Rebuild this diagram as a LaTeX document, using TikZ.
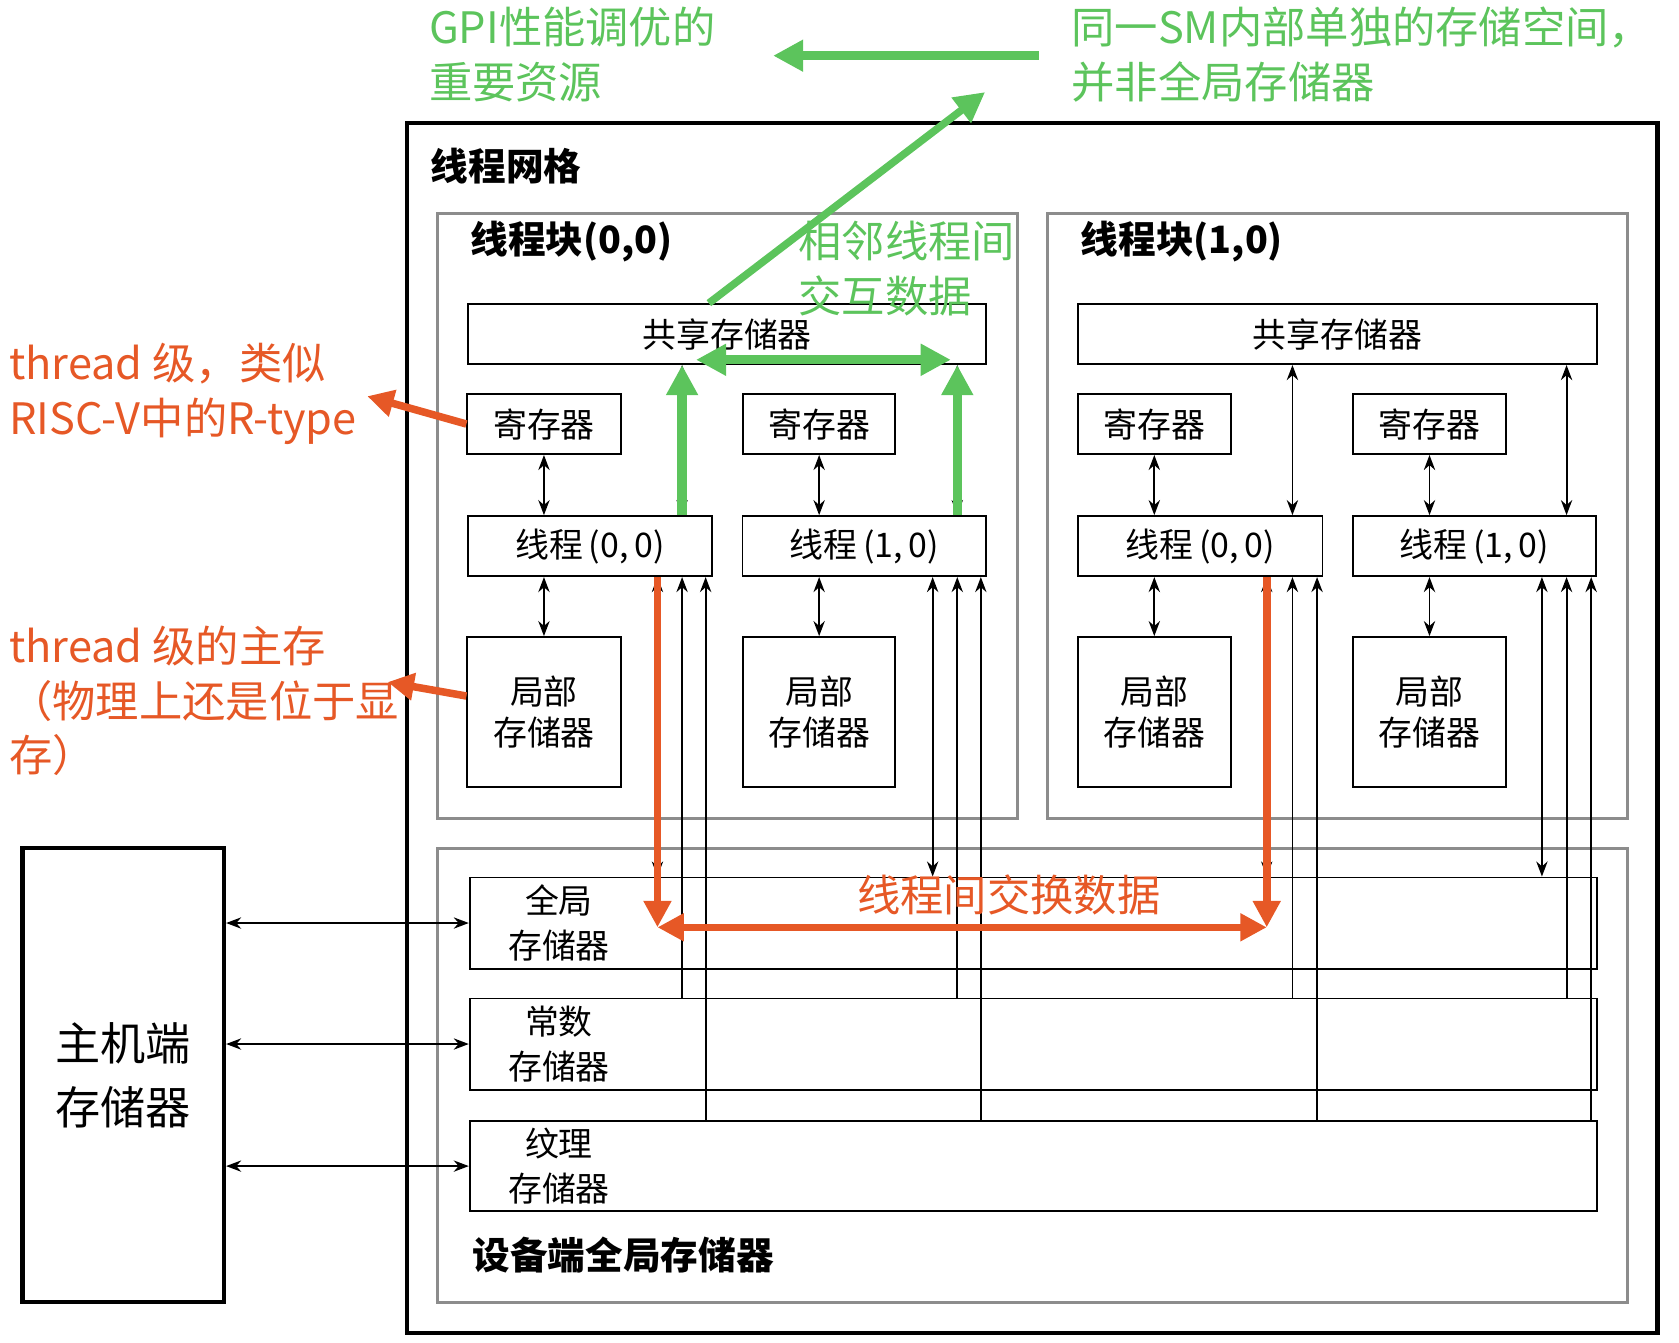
\documentclass[tikz,border=0pt]{standalone}
\usepackage{fontspec}
\setmainfont{Liberation Serif}
\newfontfamily\cjk{Noto Sans CJK SC}
\usetikzlibrary{arrows.meta,positioning}
\definecolor{ngreen}{RGB}{92,196,92}
\definecolor{norange}{RGB}{230,88,38}
\tikzset{
  box/.style={draw=black, line width=0.5pt, inner sep=0pt, font=\cjk\fontsize{9}{11}\selectfont, align=center},
  frame/.style={draw=black!45, line width=0.8pt},
  title/.style={anchor=west, font=\cjk\bfseries\fontsize{10}{12}\selectfont},
  ann/.style={anchor=north west, align=left, inner sep=0pt, font=\cjk\fontsize{11.5}{14.5}\selectfont},
  link/.style={line width=0.5pt, {Stealth[length=4pt]}-{Stealth[length=4pt]}},
  up/.style={line width=0.5pt, {Stealth[length=4pt]}-},
  gflow/.style={draw=ngreen, line width=2.5pt, -{Triangle[length=8pt,width=8pt]}},
  oflow/.style={draw=norange, line width=2pt, -{Triangle[length=7pt,width=7pt]}},
}
\begin{document}
\begin{tikzpicture}[x=0.01cm,y=-0.01cm]
	\useasboundingbox (0,0) rectangle (1568,1254);

	% frames
	\draw[line width=1.2pt] (380,115) rectangle (1548,1245);
	\node[title] (grid) at (390,155) {线程网格};
	\draw[frame] (409,199) rectangle (950,764);
	\node[title] (b0) at (427,226) {线程块(0,0)};
	\draw[frame] (978,199) rectangle (1520,764);
	\node[title] (b1) at (997,226) {线程块(1,0)};
	\draw[frame] (409,792) rectangle (1520,1216);
	\node[title] (dev) at (429,1172) {设备端全局存储器};

	% block (0,0)
	\node[box,minimum width=4.84cm,minimum height=0.56cm] (s0) at (679,312) {共享存储器};
	\node[box,minimum width=1.43cm,minimum height=0.56cm] (r00) at (508,396) {寄存器};
	\node[box,minimum width=1.42cm,minimum height=0.56cm] (r10) at (765,396) {寄存器};
	\node[box,minimum width=2.28cm,minimum height=0.56cm] (t00) at (551,510) {线程\,(0,\,0)};
	\node[box,minimum width=2.27cm,minimum height=0.56cm] (t10) at (807,510) {线程\,(1,\,0)};
	\node[box,minimum width=1.43cm,minimum height=1.40cm] (l00) at (508,665) {局部\\存储器};
	\node[box,minimum width=1.42cm,minimum height=1.40cm] (l10) at (765,665) {局部\\存储器};

	% block (1,0)
	\node[box,minimum width=4.84cm,minimum height=0.56cm] (s1) at (1249,312) {共享存储器};
	\node[box,minimum width=1.43cm,minimum height=0.56cm] (r01) at (1078,396) {寄存器};
	\node[box,minimum width=1.42cm,minimum height=0.56cm] (r11) at (1335,396) {寄存器};
	\node[box,minimum width=2.28cm,minimum height=0.56cm] (t01) at (1121,510) {线程\,(0,\,0)};
	\node[box,minimum width=2.27cm,minimum height=0.56cm] (t11) at (1377,510) {线程\,(1,\,0)};
	\node[box,minimum width=1.43cm,minimum height=1.40cm] (l01) at (1078,665) {局部\\存储器};
	\node[box,minimum width=1.42cm,minimum height=1.40cm] (l11) at (1335,665) {局部\\存储器};

	% device memories
	\node[box,minimum width=10.52cm,minimum height=0.85cm] (gm) at (965,862) {};
	\node[box,minimum width=10.52cm,minimum height=0.85cm] (cm) at (965,975) {};
	\node[box,minimum width=10.52cm,minimum height=0.84cm] (tm) at (965,1089) {};
	\node[font=\cjk\fontsize{9}{12}\selectfont,align=center] (gml) at (522,862) {全局\\存储器};
	\node[font=\cjk\fontsize{9}{12}\selectfont,align=center] (cml) at (522,975) {常数\\存储器};
	\node[font=\cjk\fontsize{9}{12}\selectfont,align=center] (tml) at (522,1089) {纹理\\存储器};

	% host
	\node[draw=black,line width=1.2pt,minimum width=1.88cm,minimum height=4.24cm,
	      font=\cjk\fontsize{12}{17}\selectfont,align=center] (host) at (115,1004) {主机端\\存储器};

	% register/local links
	\foreach \r/\t/\l in {r00/t00/l00, r10/t10/l10, r01/t01/l01, r11/t11/l11} {
		\draw[link] (\r.south) -- (\r.south |- \t.north);
		\draw[link] (\r.south |- \t.south) -- (\l.north);
	}
	% shared links
	\draw[link] (s0.south -| 637,0) -- (t00.north -| 637,0);
	\draw[link] (s0.south -| 894,0) -- (t10.north -| 894,0);
	\draw[link] (s1.south -| 1207,0) -- (t01.north -| 1207,0);
	\draw[link] (s1.south -| 1463,0) -- (t11.north -| 1463,0);

	% thread to device memory
	\foreach \t/\xa/\xb/\xc in {t00/614/637/659, t10/871/894/916, t01/1183/1207/1230, t11/1440/1463/1486} {
		\draw[link] (\t.south -| \xa,0) -- (gm.north -| \xa,0);
		\draw[up] (\t.south -| \xb,0) -- (cm.north -| \xb,0);
		\draw[up] (\t.south -| \xc,0) -- (tm.north -| \xc,0);
	}

	% host links
	\draw[link] (host.east |- gm) -- (gm.west);
	\draw[link] (host.east |- cm) -- (cm.west);
	\draw[link] (host.east |- tm) -- (tm.west);

	% green notes
	\node[ann,text=ngreen] (n1) at (400,6) {GPI性能调优的\\重要资源};
	\node[ann,text=ngreen] (n2) at (1000,6) {同一SM内部单独的存储空间，\\并非全局存储器};
	\node[ann,text=ngreen] (n3) at (745,206) {相邻线程间\\交互数据};
	\coordinate (g1) at (970,52);
	\coordinate (g2) at (722,52);
	\coordinate (g3) at (920,86);
	\draw[gflow] (g1) -- (g2);
	\draw[gflow,line width=2pt] (s0.north -| 662,0) -- (g3);
	\draw[gflow] (t00.north -| 637,0) -- (s0.south -| 637,0);
	\draw[gflow] (t10.north -| 894,0) -- (s0.south -| 894,0);
	\draw[gflow,{Triangle[length=8pt,width=8pt]}-{Triangle[length=8pt,width=8pt]}] (650,336) -- (888,336);

	% orange notes
	\node[ann,text=norange] (o1) at (8,320) {thread 级，类似\\RISC-V中的R-type};
	\node[ann,text=norange] (o2) at (8,584) {thread 级的主存\\（物理上还是位于显\\存）};
	\node[ann,text=norange] (o3) at (800,816) {线程间交换数据};
	\draw[oflow] (r00.west) -- (343,370);
	\draw[oflow] (l00.west |- 0,650) -- (362,637);
	\draw[oflow] (t00.south -| 614,0) -- (614,866);
	\draw[oflow] (t01.south -| 1183,0) -- (1183,866);
	\draw[oflow,{Triangle[length=7pt,width=7pt]}-{Triangle[length=7pt,width=7pt]}] (614,866) -- (1183,866);
\end{tikzpicture}
\end{document}
